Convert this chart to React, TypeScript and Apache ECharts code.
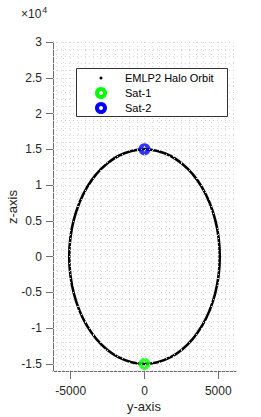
import React, { useEffect, useRef } from "react";
import * as echarts from "echarts";

// Orbit points: [y, z]
const orbitY = [
  0, 885, 1744, 2550, 3278, 3907, 4417, 4792, 5023, 5100, 5023, 4792, 4417, 3907, 3278, 2550, 1744, 885,
  0, -885, -1744, -2550, -3278, -3907, -4417, -4792, -5023, -5100, -5023, -4792, -4417, -3907, -3278, -2550, -1744, -885, 0,
];
const orbitZ = [
  15000, 14772, 14095, 12990, 11491, 9642, 7500, 5130, 2605, 0, -2605, -5130, -7500, -9642, -11491, -12990, -14095, -14772,
  -15000, -14772, -14095, -12990, -11491, -9642, -7500, -5130, -2605, 0, 2605, 5130, 7500, 9642, 11491, 12990, 14095, 14772, 15000,
];
const sat1 = [0, -15000];
const sat2 = [0, 15000];
const xTicks = [-5000, 0, 5000];
const zTicks = [-15000, -10000, -5000, 0, 5000, 10000, 15000, 20000, 25000, 30000];
const legendNames = ["EMLP2 Halo Orbit", "Sat-1", "Sat-2"];

const FONT = "'Liberation Sans', Arial, Helvetica, sans-serif";

export default function App() {
  const ref = useRef<HTMLDivElement>(null);
  useEffect(() => {
    if (!ref.current) return;
    const chart = echarts.init(ref.current, undefined, { renderer: "svg" });
    const orbit = orbitY.map((y, i) => [y, orbitZ[i]]);
    const xGrid: any[] = [];
    for (let v = -6000; v <= 6000; v += 500) xGrid.push({ xAxis: v });
    const zGrid: any[] = [];
    for (let v = -16000; v <= 30000; v += 1000) zGrid.push({ yAxis: v });
    const axisCol = "#6e6e6e";
    const legendX = 101;
    const legendYs = [78, 93, 108];
    chart.setOption({
      animation: false,
      grid: { left: 53, right: 25, top: 42, bottom: 46 },
      xAxis: {
        type: "value",
        min: -6200,
        max: 6200,
        axisLine: { show: true, onZero: false, lineStyle: { color: axisCol, width: 1 } },
        axisTick: { show: true, customValues: xTicks, length: 8, lineStyle: { color: axisCol } },
        axisLabel: {
          customValues: xTicks,
          margin: 14,
          color: "#262626",
          fontSize: 12,
          fontFamily: FONT,
          formatter: (v: number) => String(v),
        },
        splitLine: { show: false },
      },
      yAxis: {
        type: "value",
        min: -16000,
        max: 30000,
        axisLine: { show: true, onZero: false, lineStyle: { color: axisCol, width: 1 } },
        axisTick: { show: true, customValues: zTicks, length: 7, lineStyle: { color: axisCol } },
        axisLabel: {
          customValues: zTicks,
          margin: 11,
          color: "#262626",
          fontSize: 12,
          fontFamily: FONT,
          formatter: (v: number) => String(v / 10000),
        },
        splitLine: { show: false },
      },
      series: [
        {
          type: "scatter",
          data: [],
          z: 1,
          silent: true,
          markLine: {
            silent: true,
            symbol: ["none", "none"],
            label: { show: false },
            lineStyle: { color: "#d4d4d4", width: 1, type: [1, 3] },
            emphasis: { disabled: true },
            data: [...xGrid, ...zGrid],
          },
        },
        {
          name: legendNames[0],
          type: "line",
          data: orbit,
          smooth: true,
          showSymbol: false,
          z: 3,
          lineStyle: { color: "#000", width: 2.6, cap: "round" },
        },
        {
          name: legendNames[1],
          type: "scatter",
          data: [sat1],
          symbol: "circle",
          symbolSize: 8,
          z: 4,
          itemStyle: { color: "rgba(0,0,0,0)", borderColor: "#00ff00", borderWidth: 4 },
        },
        {
          name: legendNames[2],
          type: "scatter",
          data: [sat2],
          symbol: "circle",
          symbolSize: 8,
          z: 4,
          itemStyle: { color: "rgba(0,0,0,0)", borderColor: "#0000ff", borderWidth: 4 },
        },
      ],
      graphic: [
        {
          type: "text",
          x: 21,
          y: 14,
          z: 100,
          style: {
            text: "×10{s|4}",
            fontSize: 12,
            fontFamily: FONT,
            fill: "#262626",
            verticalAlign: "middle",
            rich: { s: { fontSize: 9, fontFamily: FONT, fill: "#262626", verticalAlign: "top", padding: [0, 0, 8, 1] } },
          },
        },
        {
          type: "text",
          x: 144,
          y: 406,
          z: 100,
          style: { text: "y-axis", fontSize: 13, fontFamily: FONT, fill: "#262626", align: "center", verticalAlign: "middle" },
        },
        {
          type: "text",
          x: 12,
          y: 207,
          rotation: Math.PI / 2,
          z: 100,
          style: { text: "z-axis", fontSize: 13, fontFamily: FONT, fill: "#262626", align: "center", verticalAlign: "middle" },
        },
        {
          type: "rect",
          z: 100,
          shape: { x: 76.5, y: 68.5, width: 151, height: 48 },
          style: { fill: "#fff", stroke: "#333", lineWidth: 1 },
        },
        {
          type: "circle",
          z: 101,
          shape: { cx: legendX, cy: legendYs[0], r: 1.5 },
          style: { fill: "#000" },
        },
        {
          type: "circle",
          z: 101,
          shape: { cx: legendX, cy: legendYs[1], r: 4 },
          style: { fill: "none", stroke: "#00ff00", lineWidth: 4 },
        },
        {
          type: "circle",
          z: 101,
          shape: { cx: legendX, cy: legendYs[2], r: 4 },
          style: { fill: "none", stroke: "#0000ff", lineWidth: 4 },
        },
        ...legendNames.map((n, i) => ({
          type: "text",
          x: 125,
          y: legendYs[i],
          z: 101,
          style: { text: n, fontSize: 11, fontFamily: FONT, fill: "#000", verticalAlign: "middle" },
        })),
      ],
    });
    return () => chart.dispose();
  }, []);
  return <div ref={ref} style={{ position: "absolute", left: 0, top: 0, width: 261, height: 417 }} />;
}
